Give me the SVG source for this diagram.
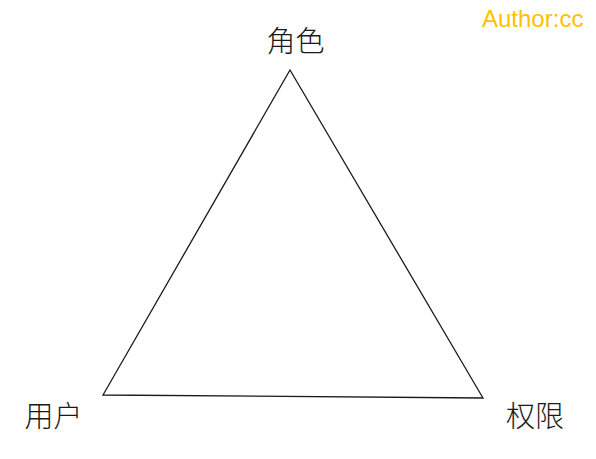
<svg xmlns="http://www.w3.org/2000/svg" width="596" height="459" viewBox="0 0 596 459">
<style>
.lbl{font-family:"Noto Sans CJK SC","Liberation Sans",sans-serif;font-size:29px;font-weight:300;fill:#1a1a1a}
.auth{font-family:"Liberation Sans",Arial,sans-serif;font-size:24px;fill:#FFC000}
</style>
<rect width="596" height="459" fill="#ffffff"/>
<g id="connectors">
<path d="M290,70 L483,398 L103,395 Z" fill="none" stroke="#1a1a1a" stroke-width="1.3"/>
</g>
<g id="role"><text class="lbl" x="295.5" y="52" text-anchor="middle">角色</text></g>
<g id="user"><text class="lbl" x="53.5" y="427" text-anchor="middle">用户</text></g>
<g id="perm"><text class="lbl" x="535" y="427" text-anchor="middle">权限</text></g>
<g id="author"><text class="auth" x="482" y="27">Author:cc</text></g>
</svg>
